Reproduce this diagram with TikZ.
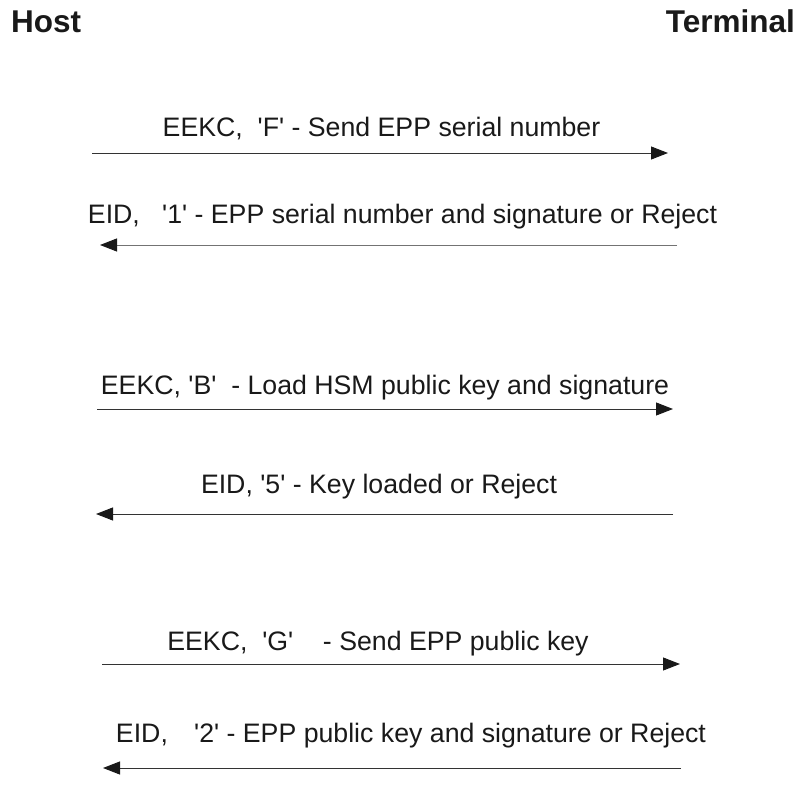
\documentclass[tikz,border=0pt]{standalone}
\usepackage{fontspec}
\setmainfont{Liberation Sans}
\usetikzlibrary{arrows.meta}
\newcommand{\q}{\textquotesingle}
\begin{document}
\begin{tikzpicture}[x=1pt,y=-1pt,
  head/.style={font=\fontsize{31.5}{38}\selectfont\bfseries, text=black!90, inner sep=0pt},
  msg/.style={font=\fontsize{26.7}{32}\selectfont, text=black!90, inner sep=0pt, anchor=base},
  arr/.style={draw=black!80, line width=1pt, -{Triangle[length=17pt,width=13pt,color=black!90]}}]
\useasboundingbox (0,0) rectangle (804,800);
\node[head, anchor=base west] (host) at (11,33) {Host};
\node[head, anchor=base east] (term) at (795,33) {Terminal};

\node[msg] (m1) at (381.5,136.5) {EEKC,~\ \q F\q\ - Send EPP serial number};
\coordinate (h1) at (92,153); \coordinate (t1) at (668,153);
\draw[arr] (h1) -- (t1);

\node[msg] (m2) at (402.5,223) {EID,~~\ \q 1\q\ - EPP serial number and signature or Reject};
\coordinate (t2) at (677,245); \coordinate (h2) at (100,245);
\draw[arr, draw=black!55] (t2) -- (h2);

\node[msg] (m3) at (385,394) {EEKC, \q B\q~\ - Load HSM public key and signature};
\coordinate (h3) at (97,409); \coordinate (t3) at (673,409);
\draw[arr] (h3) -- (t3);

\node[msg] (m4) at (379,493) {EID, \q 5\q\ - Key loaded or Reject};
\coordinate (t4) at (673,514); \coordinate (h4) at (96,514);
\draw[arr] (t4) -- (h4);

\node[msg] (m5) at (378,650) {EEKC,~\ \q G\q~~~\ - Send EPP public key};
\coordinate (h5) at (102,664); \coordinate (t5) at (680,664);
\draw[arr] (h5) -- (t5);

\node[msg] (m6) at (411,742) {EID,~~\ \hspace{4pt}\q 2\q\ - EPP public key and signature or Reject};
\coordinate (t6) at (681,768); \coordinate (h6) at (103,768);
\draw[arr] (t6) -- (h6);
\end{tikzpicture}
\end{document}
